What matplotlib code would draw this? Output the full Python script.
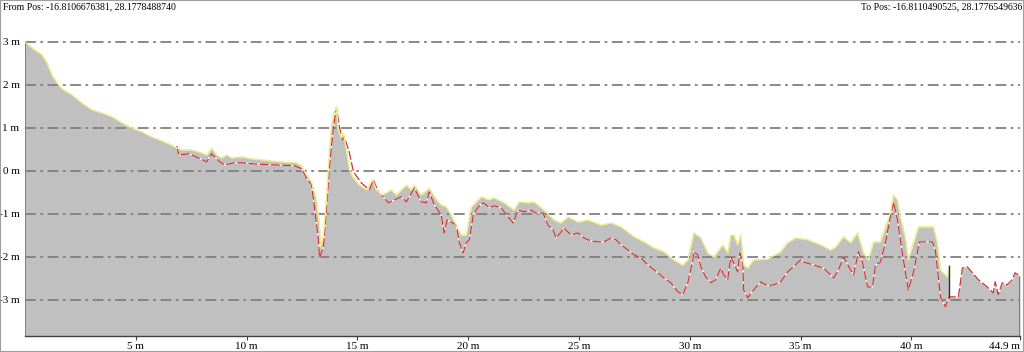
import matplotlib
matplotlib.use('Agg')
import matplotlib.pyplot as plt
from matplotlib.patches import Rectangle

# upper profile (yellow line, grey fill), metres along path / elevation in metres
top_dist = [0.0, 0.32, 0.77, 0.99, 1.22, 1.44, 1.67, 2.12, 2.57, 3.02, 3.47, 3.92, 4.37, 4.82,
            5.27, 5.72, 6.17, 6.62, 6.85, 7.07, 7.52, 7.97, 8.20, 8.42, 8.65, 8.87, 9.10, 9.32,
            9.77, 10.23, 10.68, 11.13, 11.58, 12.25, 12.48, 12.70, 12.93, 13.15, 13.29, 13.33,
            13.47, 13.60, 13.74, 13.83, 13.96, 14.05, 14.14, 14.28, 14.37, 14.50, 14.64, 14.82,
            15.09, 15.41, 15.68, 15.86, 16.08, 16.31, 16.53, 16.76, 16.98, 17.21, 17.43, 17.57,
            17.88, 18.24, 18.56, 18.78, 19.01, 19.23, 19.68, 19.91, 20.14, 20.59, 20.90, 21.17,
            21.62, 22.07, 22.30, 22.70, 22.97, 23.42, 23.87, 24.19, 24.50, 24.95, 25.41, 25.99,
            26.44, 26.89, 27.48, 27.93, 28.38, 28.83, 29.28, 29.68, 29.91, 30.18, 30.50, 30.81,
            31.08, 31.49, 31.71, 31.85, 31.98, 32.16, 32.30, 32.43, 32.61, 32.88, 33.51, 34.10,
            34.41, 34.77, 35.32, 35.90, 36.35, 36.58, 36.94, 37.25, 37.57, 37.84, 38.06, 38.29,
            38.60, 38.83, 39.05, 39.19, 39.37, 39.50, 39.73, 39.86, 40.09, 40.32, 40.72, 40.99,
            41.17, 41.31, 41.62, 41.71]
top_elev = [3.00, 2.86, 2.70, 2.51, 2.23, 2.05, 1.91, 1.77, 1.58, 1.42, 1.35, 1.26, 1.12, 1.00,
            0.91, 0.79, 0.70, 0.60, 0.53, 0.49, 0.49, 0.42, 0.37, 0.53, 0.37, 0.30, 0.37, 0.30,
            0.33, 0.28, 0.26, 0.23, 0.21, 0.19, 0.12, -0.09, -0.26, -0.67, -1.26, -1.77,
            -1.49, -0.67, 0.49, 1.07, 1.37, 1.49, 0.95, 0.77, 0.88, 0.49, 0.02, -0.16,
            -0.33, -0.44, -0.21, -0.44, -0.56, -0.51, -0.44, -0.56, -0.44, -0.33, -0.44, -0.33,
            -0.56, -0.40, -0.67, -0.79, -0.84, -1.02, -1.49, -1.49, -0.84, -0.60, -0.67, -0.63,
            -0.74, -0.91, -0.72, -0.74, -0.72, -0.91, -1.14, -1.21, -1.07, -1.19, -1.14, -1.26,
            -1.21, -1.30, -1.53, -1.65, -1.79, -1.88, -2.07, -2.19, -2.07, -1.44, -1.56, -1.91,
            -2.00, -1.72, -1.91, -1.49, -1.49, -1.72, -1.49, -2.19, -2.26, -2.07, -2.05, -1.88,
            -1.67, -1.56, -1.60, -1.72, -1.84, -1.77, -1.53, -1.67, -1.44, -1.91, -2.07, -1.65,
            -1.65, -1.30, -0.98, -0.56, -0.67, -1.07, -1.56, -2.07, -1.67, -1.30, -1.30, -1.30,
            -1.67, -2.30, -2.47, -2.21]

# lower profile (red dashed), starts where it leaves the upper one
low_dist = [6.85, 6.94, 7.39, 7.84, 8.20, 8.42, 8.74, 9.01, 9.46, 9.77, 10.36, 11.26, 12.16,
            12.48, 12.70, 12.93, 13.06, 13.24, 13.29, 13.47, 13.60, 13.74, 13.92, 14.05, 14.19,
            14.32, 14.41, 14.64, 14.82, 15.18, 15.54, 15.72, 15.95, 16.40, 16.85, 16.98, 17.21,
            17.57, 17.88, 18.11, 18.24, 18.47, 18.78, 18.92, 19.05, 19.23, 19.46, 19.59, 19.77,
            19.91, 20.05, 20.23, 20.45, 20.68, 20.81, 20.95, 21.17, 21.49, 21.80, 22.03, 22.25,
            22.52, 22.84, 23.06, 23.38, 23.60, 23.83, 23.96, 24.19, 24.32, 24.64, 24.95, 25.23,
            25.54, 25.86, 26.13, 26.44, 26.67, 26.89, 27.21, 27.48, 27.79, 28.11, 28.56, 28.83,
            29.14, 29.46, 29.68, 29.91, 30.14, 30.18, 30.36, 30.50, 30.72, 30.95, 31.17, 31.40,
            31.53, 31.71, 31.85, 31.98, 32.16, 32.25, 32.39, 32.43, 32.61, 32.88, 33.20, 33.51,
            33.78, 34.10, 34.41, 34.68, 35.00, 35.14, 35.59, 36.04, 36.49, 36.71, 36.94, 37.25,
            37.39, 37.61, 37.79, 38.02, 38.24, 38.38, 38.60, 38.83, 39.05, 39.19, 39.37, 39.59,
            39.86, 40.09, 40.36, 40.72, 40.95, 41.08, 41.31, 41.53, 41.71]
low_elev = [0.58, 0.37, 0.40, 0.30, 0.21, 0.40, 0.23, 0.14, 0.19, 0.19, 0.16, 0.14, 0.12,
            0.05, -0.16, -0.33, -0.84, -1.60, -2.02, -1.77, -0.91, 0.09, 1.02, 1.47, 1.02,
            0.72, 0.79, 0.42, -0.02, -0.28, -0.44, -0.21, -0.49, -0.74, -0.63, -0.60, -0.72,
            -0.40, -0.72, -0.74, -0.49, -0.79, -1.02, -1.44, -1.14, -1.19, -1.26, -1.65, -1.91,
            -1.67, -1.60, -1.02, -0.84, -0.74, -0.79, -0.86, -0.81, -0.86, -1.07, -1.21, -0.91,
            -0.95, -0.91, -0.98, -0.98, -1.26, -1.37, -1.56, -1.42, -1.33, -1.49, -1.44, -1.56,
            -1.63, -1.65, -1.65, -1.56, -1.60, -1.72, -1.84, -1.95, -2.02, -2.19, -2.37, -2.49,
            -2.60, -2.81, -2.88, -2.60, -2.07, -1.88, -1.95, -2.23, -2.47, -2.60, -2.53, -2.26,
            -2.42, -2.53, -2.00, -2.14, -2.35, -1.91, -2.14, -2.77, -2.95, -2.77, -2.58, -2.67,
            -2.65, -2.58, -2.35, -2.23, -2.07, -2.12, -2.19, -2.26, -2.49, -2.30, -2.00, -2.30,
            -2.42, -1.88, -2.12, -2.70, -2.70, -2.19, -2.12, -1.67, -1.07, -0.72, -1.14, -1.91,
            -2.77, -2.37, -1.65, -1.65, -1.65, -1.84, -2.93, -3.16, -2.93]

# shared tail after the upper profile ends
tail_dist = [41.71, 41.76, 42.12, 42.30, 42.52, 42.75, 43.02, 43.42, 43.69, 43.78, 43.92,
             44.10, 44.32, 44.55, 44.68, 44.82, 44.90]
tail_elev = [-2.93, -2.93, -2.93, -2.26, -2.23, -2.37, -2.53, -2.70, -2.84, -2.58, -2.88,
             -2.60, -2.65, -2.53, -2.37, -2.42, -2.44]

x_ticks = [5, 10, 15, 20, 25, 30, 35, 40, 44.9]
x_labels = ['5 m', '10 m', '15 m', '20 m', '25 m', '30 m', '35 m', '40 m', '44.9 m']
y_ticks = [-3, -2, -1, 0, 1, 2, 3]
from_pos = 'From Pos: -16.8106676381, 28.1778488740'
to_pos = 'To Pos: -16.8110490525, 28.1776549636'

plt.rcParams['font.family'] = ['Liberation Serif', 'DejaVu Serif']

fig = plt.figure(figsize=(10.24, 3.52), dpi=100)
ax = fig.add_axes([25 / 1024, 16 / 352, 995 / 1024, 322 / 352])
y_bottom = -3.84
ax.set_xlim(0, 44.9)
ax.set_ylim(y_bottom, 3.65)

fill_x = top_dist + tail_dist
fill_y = top_elev + tail_elev
ax.fill_between(fill_x, fill_y, y_bottom, color='#c0c0c0', lw=0, zorder=1)
# edges of the filled area
ax.plot([fill_x[0], fill_x[0]], [y_bottom, fill_y[0]], color='#707070', lw=1.2, zorder=2)
ax.plot([fill_x[-1], fill_x[-1]], [y_bottom, fill_y[-1]], color='#707070', lw=1.2, zorder=2)

for yv in y_ticks:
    ax.axhline(yv, color='#808080', lw=1.3, linestyle=(0, (6, 2.5, 1.5, 2.5)), zorder=3)

# red dashed line with white gaps
low_x = low_dist + tail_dist
low_y = low_elev + tail_elev
ax.plot(low_x, low_y, color='white', lw=0.9, zorder=4)
ax.plot(low_x, low_y, color='#cc3333', lw=0.9, linestyle=(0, (7, 2)), zorder=5)
ax.plot(top_dist, top_elev, color='#eeee88', lw=1.0, zorder=6)
ax.plot([top_dist[-1], tail_dist[0]], [top_elev[-1], tail_elev[0]], color='#303030', lw=1.0, zorder=6)

for side in ['top', 'right', 'left']:
    ax.spines[side].set_visible(False)
ax.spines['bottom'].set_color('#404040')
ax.spines['bottom'].set_linewidth(1.0)

ax.set_xticks(x_ticks)
ax.set_xticklabels(x_labels, fontsize=8)
ax.get_xticklabels()[-1].set_horizontalalignment('right')
ax.tick_params(axis='x', length=3, width=0.8, color='#404040', pad=1)
ax.set_yticks(y_ticks)
ax.set_yticklabels([f'{v} m' for v in y_ticks], fontsize=8)
ax.tick_params(axis='y', length=0, pad=4)

fig.text(3 / 1024, 1 - 2 / 352, from_pos, fontsize=7, va='top', ha='left')
fig.text(1 - 2 / 1024, 1 - 2 / 352, to_pos, fontsize=7, va='top', ha='right')

fig.patches.append(Rectangle((0, 0), 1, 1, transform=fig.transFigure, fill=False,
                             edgecolor='#a0a0a0', lw=1.5))

fig.savefig('out.png', dpi=100)
